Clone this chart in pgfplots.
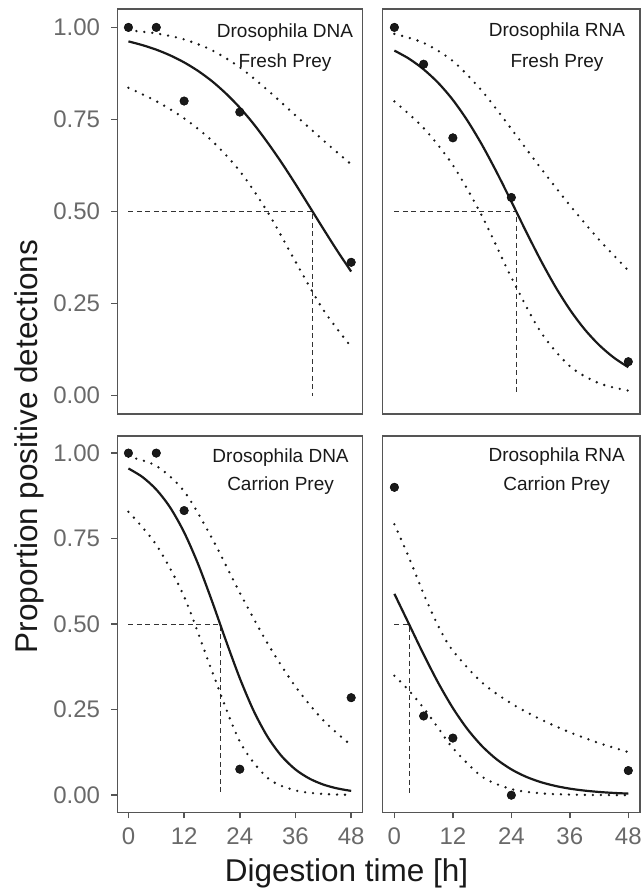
\documentclass[border=0pt]{standalone}
\usepackage{fontspec}
\setmainfont{Liberation Sans}
\usepackage{pgfplots}
\pgfplotsset{compat=1.18}
\definecolor{framegray}{RGB}{85,85,85}
\definecolor{tickgray}{RGB}{105,105,105}
\definecolor{inkdark}{RGB}{25,25,25}

\pgfplotsset{
  panel/.style={
    scale only axis, anchor=south west,
    xmin=-2.4, xmax=50.4, ymin=-0.05, ymax=1.05,
    axis line style={framegray, line width=1.5pt},
    tick style={framegray, line width=1.5pt},
    tick align=outside, major tick length=6pt,
    xtick pos=bottom, ytick pos=left,
    xtick=\empty, ytick=\empty,
    ticklabel style={font=\fontsize{24}{28}\selectfont, text=tickgray},
    yticklabel style={inner sep=0pt, xshift=-11pt},
    xticklabel style={inner sep=0pt, yshift=-9pt},
    /pgf/number format/assume math mode=true,
  },
  yleft/.style={ytick={0,0.25,0.5,0.75,1}, yticklabels={0.00,0.25,0.50,0.75,1.00}},
  xbottom/.style={xtick={0,12,24,36,48}},
  fitline/.style={inkdark, line width=2.2pt, smooth},
  band/.style={inkdark, line width=2.6pt, dash pattern=on 0pt off 8pt, line cap=round, smooth},
  halfline/.style={black!80, line width=1pt, dash pattern=on 5pt off 3.5pt},
  obs/.style={only marks, mark=*, mark size=4.3pt, mark options={draw=none, fill=inkdark}},
}

\begin{document}
\begin{tikzpicture}
\useasboundingbox (0pt,0pt) rectangle (643pt,888pt);

% Drosophila DNA, fresh prey
\begin{axis}[panel, yleft, at={(117.3pt,474pt)}, width=245pt, height=405pt]
\addplot[halfline] coordinates {(0,0.5) (39.7,0.5) (39.7,0)};
\addplot[band] coordinates {(0,0.992) (6,0.9837) (12,0.9674) (18,0.938) (24,0.8915) (30,0.8295) (36,0.761) (42,0.6932) (48,0.628)};
\addplot[band] coordinates {(0,0.836) (6,0.7995) (12,0.753) (18,0.692) (24,0.6097) (30,0.4985) (36,0.3638) (42,0.2327) (48,0.1326)};
\addplot[fitline] coordinates {(0,0.962) (3,0.9519) (6,0.9395) (9,0.9240) (12,0.905) (15,0.8818) (18,0.854) (21,0.8206) (24,0.782) (27,0.7374) (30,0.687) (33,0.6327) (36,0.5744) (39,0.5138) (42,0.4529) (45,0.3934) (48,0.3369)};
\addplot[obs] coordinates {(0,1.00) (6,1.00) (12,0.80) (24,0.77) (48,0.362)};
\end{axis}

% Drosophila RNA, fresh prey
\begin{axis}[panel, at={(382.7pt,474pt)}, width=257.3pt, height=405pt]
\addplot[halfline] coordinates {(0,0.5) (25,0.5) (25,0)};
\addplot[band] coordinates {(0,0.9824) (6,0.958) (12,0.9084) (18,0.827) (24,0.7243) (30,0.6182) (36,0.5169) (42,0.4234) (48,0.3397)};
\addplot[band] coordinates {(0,0.799) (6,0.7265) (12,0.6258) (18,0.487) (24,0.3208) (30,0.1734) (36,0.0799) (42,0.0335) (48,0.01335)};
\addplot[fitline] coordinates {(0,0.937) (3,0.915) (6,0.886) (9,0.8492) (12,0.803) (15,0.7465) (18,0.6805) (21,0.6064) (24,0.527) (27,0.4462) (30,0.3682) (33,0.2965) (36,0.2336) (39,0.1806) (42,0.1375) (45,0.1034) (48,0.077)};
\addplot[obs] coordinates {(0,1.00) (6,0.90) (12,0.70) (24,0.538) (48,0.092)};
\end{axis}

% Drosophila DNA, carrion prey
\begin{axis}[panel, yleft, xbottom, at={(117.3pt,75.7pt)}, width=245pt, height=376.3pt]
\addplot[halfline] coordinates {(0,0.5) (19.76,0.5) (19.76,0)};
\addplot[band] coordinates {(0,0.9894) (6,0.9627) (12,0.8884) (18,0.7514) (24,0.5917) (30,0.4433) (36,0.3176) (42,0.2187) (48,0.1459)};
\addplot[band] coordinates {(0,0.8285) (6,0.7317) (12,0.5806) (18,0.3631) (24,0.157) (30,0.0503) (36,0.01397) (42,0.00368) (48,0.00094)};
\addplot[fitline] coordinates {(0,0.955) (3,0.9303) (6,0.8935) (9,0.8408) (12,0.7685) (15,0.6761) (18,0.5676) (21,0.4522) (24,0.3419) (27,0.2462) (30,0.1704) (33,0.1144) (36,0.0751) (39,0.0486) (42,0.0311) (45,0.0198) (48,0.01255)};
\addplot[obs] coordinates {(0,1.00) (6,1.00) (12,0.832) (24,0.076) (48,0.285)};
\end{axis}

% Drosophila RNA, carrion prey
\begin{axis}[panel, xbottom, at={(382.7pt,75.7pt)}, width=257.3pt, height=376.3pt]
\addplot[halfline] coordinates {(0,0.5) (3,0.5) (3,0)};
\addplot[band] coordinates {(0,0.792) (3,0.6943) (6,0.5886) (9,0.4945) (12,0.4224) (18,0.3289) (24,0.2682) (30,0.2217) (36,0.1838) (42,0.1523) (48,0.126)};
\addplot[band] coordinates {(0,0.3493) (3,0.3057) (6,0.2546) (9,0.1963) (12,0.1378) (18,0.0539) (24,0.0179) (30,0.00556) (36,0.00169) (42,0.0005) (48,0.00015)};
\addplot[fitline] coordinates {(0,0.5886) (3,0.5) (6,0.4114) (9,0.3283) (12,0.2547) (15,0.1929) (18,0.1432) (21,0.1046) (24,0.0755) (27,0.0540) (30,0.0384) (33,0.0272) (36,0.0191) (39,0.01346) (42,0.00944) (45,0.00662) (48,0.00464)};
\addplot[obs] coordinates {(0,0.90) (6,0.2315) (12,0.167) (24,0.0) (48,0.072)};
\end{axis}

% panel labels
\begin{scope}[every node/.style={anchor=base, inner sep=0pt, text=inkdark, font=\fontsize{19}{22}\selectfont}]
\node at (285pt,850pt) {Drosophila DNA};
\node at (285pt,820pt) {Fresh Prey};
\node at (557pt,851pt) {Drosophila RNA};
\node at (557pt,820pt) {Fresh Prey};
\node at (280.6pt,425.7pt) {Drosophila DNA};
\node at (280.6pt,397pt) {Carrion Prey};
\node at (556.7pt,426.3pt) {Drosophila RNA};
\node at (556.7pt,397pt) {Carrion Prey};
\end{scope}

% axis titles
\node[rotate=90, anchor=base, inner sep=0pt, text=inkdark, font=\fontsize{31.5}{36}\selectfont] at (37pt,441.5pt) {Proportion positive detections};
\node[anchor=base, inner sep=0pt, text=inkdark, font=\fontsize{31.5}{36}\selectfont] at (346.5pt,6pt) {Digestion time [h]};
\end{tikzpicture}
\end{document}
